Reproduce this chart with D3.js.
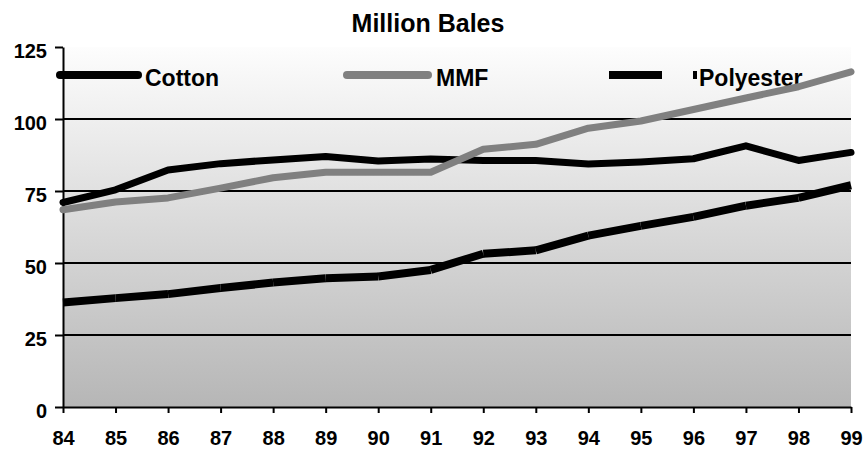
<!DOCTYPE html>
<html>
<head>
<meta charset="utf-8">
<script src="https://cdn.jsdelivr.net/npm/d3@7"></script>
<style>
  body { margin: 0; background: #fff; }
  text { font-family: "Liberation Sans", Arial, sans-serif; font-weight: bold; fill: #000; }
</style>
</head>
<body>
<svg id="chart" width="863" height="451"></svg>
<script>
// World fibre consumption, million bales
const years = ["84","85","86","87","88","89","90","91","92","93","94","95","96","97","98","99"];
const cotton    = [71.0, 75.4, 82.3, 84.5, 85.8, 87.0, 85.4, 86.1, 85.6, 85.6, 84.4, 85.1, 86.2, 90.7, 85.6, 88.4];
const mmf       = [68.5, 71.2, 72.6, 76.0, 79.6, 81.5, 81.5, 81.5, 89.5, 91.2, 96.8, 99.3, 103.3, 107.3, 111.2, 116.4];
const polyester = [36.3, 37.8, 39.2, 41.3, 43.2, 44.7, 45.3, 47.6, 53.2, 54.4, 59.5, 62.9, 66.0, 69.9, 72.6, 77.0];
const yTicks = [0, 25, 50, 75, 100, 125];
const gridValues = [25, 50, 75, 100];
const seriesNames = ["Cotton", "MMF", "Polyester"];

const svg = d3.select("#chart");
const plot = { left: 63, right: 851, top: 47, bottom: 407 };

const x = d3.scalePoint().domain(years).range([plot.left, plot.right]);
const y = d3.scaleLinear().domain([0, 125]).range([plot.bottom, plot.top]);

// plot-area gradient background
const defs = svg.append("defs");
const grad = defs.append("linearGradient")
  .attr("id", "bg").attr("x1", 0).attr("y1", 0).attr("x2", 0).attr("y2", 1);
grad.append("stop").attr("offset", "0%").attr("stop-color", "#fdfdfd");
grad.append("stop").attr("offset", "100%").attr("stop-color", "#b6b6b6");

svg.append("rect")
  .attr("x", plot.left).attr("y", plot.top)
  .attr("width", plot.right - plot.left).attr("height", plot.bottom - plot.top)
  .attr("fill", "url(#bg)");

// horizontal gridlines
svg.append("g").selectAll("line").data(gridValues).join("line")
  .attr("x1", plot.left).attr("x2", plot.right)
  .attr("y1", d => y(d)).attr("y2", d => y(d))
  .attr("stroke", "#000").attr("stroke-width", 2);

// title
svg.append("text")
  .attr("x", 428).attr("y", 32)
  .attr("text-anchor", "middle")
  .style("font-size", "25px")
  .text("Million Bales");

// axes
const yAxis = svg.append("g")
  .attr("transform", `translate(${plot.left},0)`)
  .call(d3.axisLeft(y).tickValues(yTicks).tickSize(8).tickSizeOuter(0).tickPadding(8));
yAxis.selectAll("text").attr("dy", "0.5em").style("font-size", "20px");

const xAxis = svg.append("g")
  .attr("transform", `translate(0,${plot.bottom})`)
  .call(d3.axisBottom(x).tickSize(6).tickSizeOuter(0).tickPadding(18));
xAxis.selectAll("text").style("font-size", "20px");

[yAxis, xAxis].forEach(g => {
  g.select(".domain").attr("stroke", "#000").attr("stroke-width", 2);
  g.selectAll(".tick line").attr("stroke", "#000").attr("stroke-width", 2);
});

// legend
const legend = svg.append("g");
legend.append("line")
  .attr("x1", 60).attr("x2", 138).attr("y1", 75).attr("y2", 75)
  .attr("stroke", "#000").attr("stroke-width", 8).attr("stroke-linecap", "round");
legend.append("text").attr("x", 145).attr("y", 86).style("font-size", "23px").text(seriesNames[0]);

legend.append("line")
  .attr("x1", 347).attr("x2", 428).attr("y1", 75).attr("y2", 75)
  .attr("stroke", "#808080").attr("stroke-width", 8).attr("stroke-linecap", "round");
legend.append("text").attr("x", 436).attr("y", 86).style("font-size", "23px").text(seriesNames[1]);

legend.append("line")
  .attr("x1", 609).attr("x2", 697).attr("y1", 75).attr("y2", 75)
  .attr("stroke", "#000").attr("stroke-width", 8)
  .attr("stroke-dasharray", "53,31,4");
legend.append("text").attr("x", 699).attr("y", 86).style("font-size", "23px").text(seriesNames[2]);

// series lines
const line = d3.line().x((d, i) => x(years[i])).y(d => y(d));

svg.append("path").datum(cotton)
  .attr("d", line)
  .attr("fill", "none").attr("stroke", "#000").attr("stroke-width", 7)
  .attr("stroke-linecap", "round").attr("stroke-linejoin", "round");

// polyester drawn as separate butt-capped segments
const pairs = d3.pairs(polyester.map((v, i) => [years[i], v]));
svg.append("g").selectAll("line").data(pairs).join("line")
  .attr("x1", d => x(d[0][0])).attr("y1", d => y(d[0][1]))
  .attr("x2", d => x(d[1][0])).attr("y2", d => y(d[1][1]))
  .attr("stroke", "#000").attr("stroke-width", 8).attr("stroke-linecap", "butt");

svg.append("path").datum(mmf)
  .attr("d", line)
  .attr("fill", "none").attr("stroke", "#808080").attr("stroke-width", 7)
  .attr("stroke-linecap", "round").attr("stroke-linejoin", "round");
</script>
</body>
</html>
